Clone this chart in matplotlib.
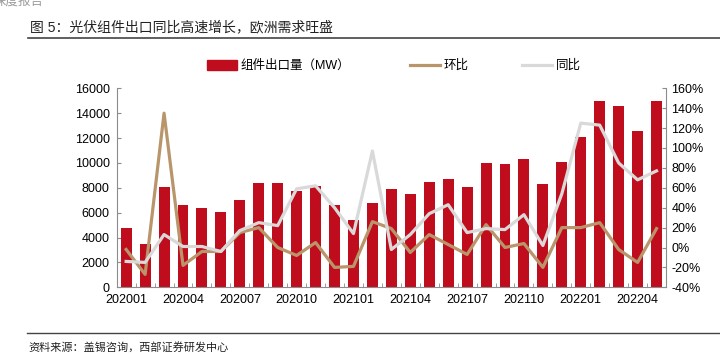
import matplotlib.pyplot as plt
import numpy as np
from matplotlib.patches import Patch

plt.rcParams['font.family'] = ['Liberation Sans', 'Noto Sans CJK SC']

months = ['202001', '202002', '202003', '202004', '202005', '202006', '202007', '202008',
          '202009', '202010', '202011', '202012', '202101', '202102', '202103', '202104',
          '202105', '202106', '202107', '202108', '202109', '202110', '202111', '202112',
          '202201', '202202', '202203', '202204', '202205']
export_mw = [4800, 3500, 8060, 6600, 6340, 6080, 7040, 8410, 8410, 7770, 8120, 6590, 5430,
             6770, 7930, 7530, 8470, 8680, 8090, 10000, 9950, 10320, 8330, 10050, 12070,
             15000, 14570, 12530, 14950]
mom = [-2, -27, 135, -18, -4, -4, 15, 20, 0, -8, 5, -20, -19, 26, 19, -5, 13, 3, -7, 23,
       0, 4, -20, 20, 20, 25, -2, -15, 19]
yoy = [-14, -15, 13, 1, 1, -4, 17, 25, 22, 59, 62, 40, 14, 97, -2, 13, 34, 43, 15, 19,
       18, 33, 2, 54, 125, 123, 85, 68, 77]

red = '#C00D1E'
tan = '#B9956B'
grey = '#D9D9D9'
spine = '#8C8C8C'

fig = plt.figure(figsize=(7.2, 3.56), dpi=100)
ax = fig.add_axes([116.7 / 720, 1 - 287.3 / 356, (666 - 116.7) / 720, (287.3 - 88.3) / 356])
x = np.arange(len(months))
ax.bar(x, export_mw, width=0.58, color=red, zorder=2)
ax.set_xlim(-0.5, len(months) - 0.5)
ax.set_ylim(0, 16000)
ax.set_yticks(range(0, 16001, 2000))
ax.set_xticks(x[::3])
ax.set_xticklabels(months[::3])
ax.set_xticks(np.arange(-0.5, len(months), 1), minor=True)
ax.tick_params(axis='x', which='major', length=0, pad=5, labelsize=9)
ax.tick_params(axis='x', which='minor', length=3, direction='in', color=spine)
ax.tick_params(axis='y', length=3, direction='in', color=spine, labelsize=9, pad=5)
for s in ['top', 'right']:
    ax.spines[s].set_visible(False)
for s in ['left', 'bottom']:
    ax.spines[s].set_color(spine)

ax2 = ax.twinx()
l1, = ax2.plot(x, mom, color=tan, lw=2.3, zorder=3)
l2, = ax2.plot(x, yoy, color=grey, lw=2.3, zorder=3)
ax2.set_ylim(-40, 160)
ax2.set_yticks(range(-40, 161, 20))
ax2.set_yticklabels([f'{v}%' for v in range(-40, 161, 20)])
ax2.tick_params(axis='y', length=3, direction='in', color=spine, labelsize=9, pad=4)
for s in ['top', 'left', 'bottom']:
    ax2.spines[s].set_visible(False)
ax2.spines['right'].set_color(spine)

# legend, one entry each so they sit where the reference has them
entries = [(Patch(color=red), '组件出口量（MW）', 207),
           (l1, '环比', 410),
           (l2, '同比', 522)]
for h, lab, px in entries:
    leg = fig.legend([h], [lab], loc='center left', bbox_to_anchor=(px / 720, 1 - 66 / 356),
                     frameon=False, fontsize=9, handlelength=2.4, handleheight=0.9,
                     handletextpad=0.3, borderpad=0, borderaxespad=0)

# header / footer
fig.text(44 / 720, 1 - 1 / 356, '深度报告', ha='right', va='center', fontsize=9,
         color='#9A9A9A', family=['Noto Sans CJK SC'])
fig.text(30 / 720, 1 - 27 / 356, '图 5：光伏组件出口同比高速增长，欧洲需求旺盛', ha='left',
         va='center', fontsize=10, color='#222222')
fig.add_artist(plt.Line2D([28 / 720, 1], [1 - 38 / 356] * 2, color='#444444', lw=1.2))
fig.add_artist(plt.Line2D([27 / 720, 1], [1 - 333 / 356] * 2, color='#444444', lw=1.0))
fig.text(28 / 720, 1 - 347 / 356, '资料来源：盖锡咨询，西部证券研发中心', ha='left',
         va='center', fontsize=8, color='#222222')

fig.savefig('out.png', dpi=100)
